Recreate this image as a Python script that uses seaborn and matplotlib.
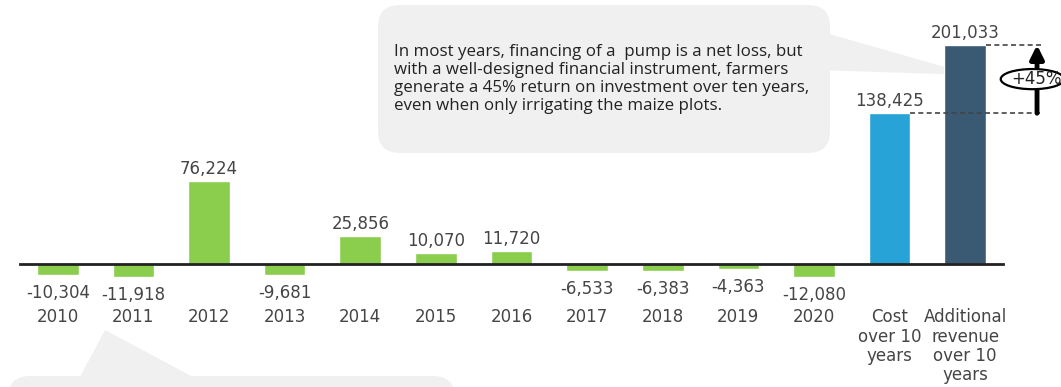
import matplotlib
matplotlib.use("Agg")
import matplotlib.pyplot as plt
import seaborn as sns
import pandas as pd
from matplotlib.patches import FancyBboxPatch, Polygon, Ellipse
from matplotlib.transforms import IdentityTransform

# ---- data -------------------------------------------------------------
categories = ["2010", "2011", "2012", "2013", "2014", "2015", "2016",
              "2017", "2018", "2019", "2020",
              "Cost\nover 10\nyears", "Additional\nrevenue\nover 10\nyears"]
values = [-10304, -11918, 76224, -9681, 25856, 10070, 11720,
          -6533, -6383, -4363, -12080, 138425, 201033]
value_labels = ["-10,304", "-11,918", "76,224", "-9,681", "25,856", "10,070",
                "11,720", "-6,533", "-6,383", "-4,363", "-12,080",
                "138,425", "201,033"]
groups = ["annual"] * 11 + ["cost", "revenue"]
palette = {"annual": "#8bce4e", "cost": "#27a3d7", "revenue": "#395a72"}
roi_label = "+45%"
note_text = ("In most years, financing of a  pump is a net loss, but\n"
             "with a well-designed financial instrument, farmers\n"
             "generate a 45% return on investment over ten years,\n"
             "even when only irrigating the maize plots.")

df = pd.DataFrame({"category": categories, "value": values, "group": groups})

# ---- figure -----------------------------------------------------------
W, H = 1061, 387
sns.set_style("white")
plt.rcParams["font.family"] = ["DejaVu Sans"]
label_color = "#454545"
label_size = 12

fig = plt.figure(figsize=(W / 100, H / 100), dpi=100)
base_px = 264                     # baseline, pixels from top
units_per_px = 918
ax = fig.add_axes([20 / W, (H - base_px) / H, 983 / W, base_px / H])
ax.patch.set_alpha(0)

sns.barplot(data=df, x="category", y="value", hue="group", order=categories,
            palette=palette, dodge=False, width=0.55, saturation=1,
            legend=False, ax=ax)
for p in ax.patches:
    p.set_clip_on(False)

ax.set_xlim(-0.5, len(categories) - 0.5)
ax.set_ylim(0, base_px * units_per_px)
ax.set_yticks([])
ax.set_xlabel("")
ax.set_ylabel("")
for s in ["top", "left", "right"]:
    ax.spines[s].set_visible(False)
ax.spines["bottom"].set_linewidth(2)
ax.spines["bottom"].set_color("#222222")
ax.spines["bottom"].set_zorder(3)
ax.tick_params(axis="x", length=0, pad=32, labelsize=label_size,
               labelcolor=label_color)
plt.setp(ax.get_xticklabels(), linespacing=1.08, multialignment="center")

# value labels
for i, (v, lab) in enumerate(zip(values, value_labels)):
    off = 12 if v >= 0 else -18
    ax.annotate(lab, xy=(i, v), xytext=(0, off * 0.72), textcoords="offset points",
                ha="center", va="center", fontsize=label_size, color=label_color,
                annotation_clip=False)

# comparison marker between cost and revenue
cost, rev = values[-2], values[-1]
ax.plot([11 + 0.275, 13.03], [cost, cost], ls=(0, (3, 2)), lw=1.2,
        color="#444444", clip_on=False, zorder=4)
ax.plot([12 + 0.275, 13.03], [rev, rev], ls=(0, (3, 2)), lw=1.2,
        color="#444444", clip_on=False, zorder=4)
ax.annotate("", xy=(12.95, rev), xytext=(12.95, cost),
            arrowprops=dict(arrowstyle="-|>", lw=3.5, color="black",
                            mutation_scale=20, shrinkA=0, shrinkB=0),
            annotation_clip=False, zorder=5)
mid = (cost + rev) / 2
ax.add_patch(Ellipse((12.89, mid), 0.84, 18500, fc="white", ec="black",
                     lw=1.6, clip_on=False, zorder=6))
ax.text(12.94, mid, roi_label, ha="center", va="center", fontsize=12,
        color="#222222", zorder=7, clip_on=False)

# ---- callouts (pixel coordinates) --------------------------------------
ident = IdentityTransform()
box_color = "#f0f0f0"
top_box = FancyBboxPatch((378, H - 153), 452, 148,
                         boxstyle="round,pad=0,rounding_size=22",
                         transform=ident, fc=box_color, ec="none", zorder=-1)
top_tail = Polygon([(815, H - 30), (973, H - 75), (815, H - 70)], closed=True,
                   transform=ident, fc=box_color, ec="none", zorder=-1)
bot_box = FancyBboxPatch((8, -40), 447, H - 376 + 40,
                         boxstyle="round,pad=0,rounding_size=22",
                         transform=ident, fc=box_color, ec="none", zorder=-1)
bot_tail = Polygon([(80, H - 377), (105, H - 330), (193, H - 377)], closed=True,
                   transform=ident, fc=box_color, ec="none", zorder=-1)
for p in (top_box, top_tail, bot_box, bot_tail):
    fig.add_artist(p)

fig.text(394, H - 44, note_text, transform=ident, ha="left", va="top",
         fontsize=12.2, family=["Open Sans", "DejaVu Sans"], color="#222222",
         linespacing=1.16, zorder=5)

fig.savefig("out.png", dpi=100)
